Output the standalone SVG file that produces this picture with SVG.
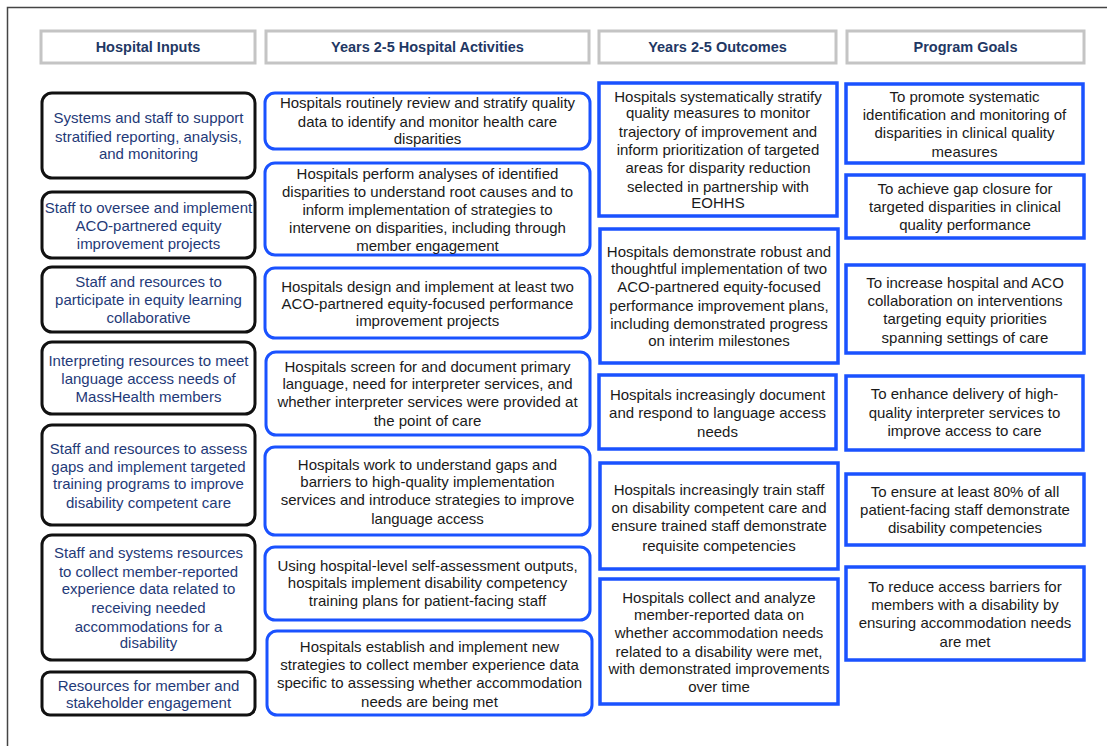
<svg xmlns="http://www.w3.org/2000/svg" width="1107" height="746" viewBox="0 0 1107 746">
<style>
text{font-family:"Liberation Sans",Arial,sans-serif;font-size:15px;text-anchor:middle}
.hdr rect{fill:#fff;stroke:#c4c4c4;stroke-width:3}
.hdr text{font-weight:bold;font-size:14.5px;fill:#1f3864}
.inp rect{fill:#fff;stroke:#111;stroke-width:3}
.inp text{fill:#1f3a78}
.act rect{fill:#fff;stroke:#1a52ff;stroke-width:3}
.out rect,.goal rect{fill:#fff;stroke:#1a52ff;stroke-width:3.5}
.act text,.out text,.goal text{fill:#1a1a1a}
</style>
<rect x="0" y="0" width="1107" height="746" fill="#fff"/>
<path d="M7.5 746 V7.5 H1107" fill="none" stroke="#444" stroke-width="1.5"/>
<g id="connectors"></g>

<g id="h1" class="hdr"><rect x="41" y="31" width="214" height="32"/><text x="148" y="52">Hospital Inputs</text></g>
<g id="h2" class="hdr"><rect x="266" y="31" width="323" height="32"/><text x="427.5" y="52">Years 2-5 Hospital Activities</text></g>
<g id="h3" class="hdr"><rect x="599" y="31" width="237" height="32"/><text x="717.5" y="52">Years 2-5 Outcomes</text></g>
<g id="h4" class="hdr"><rect x="847" y="31" width="237" height="32"/><text x="965.5" y="52">Program Goals</text></g>

<g id="in1" class="inp"><rect x="42" y="93" width="213" height="85" rx="10"/><text x="148.5"><tspan x="148.5" y="123">Systems and staff to support</tspan><tspan x="148.5" y="142">stratified reporting, analysis,</tspan><tspan x="148.5" y="159">and monitoring</tspan></text></g>
<g id="in2" class="inp"><rect x="42" y="192" width="213" height="66" rx="10"/><text><tspan x="148.5" y="213">Staff to oversee and implement</tspan><tspan x="148.5" y="231">ACO-partnered equity</tspan><tspan x="148.5" y="249">improvement projects</tspan></text></g>
<g id="in3" class="inp"><rect x="42" y="267" width="213" height="65" rx="10"/><text><tspan x="148.5" y="287">Staff and resources to</tspan><tspan x="148.5" y="305">participate in equity learning</tspan><tspan x="148.5" y="323">collaborative</tspan></text></g>
<g id="in4" class="inp"><rect x="42" y="342" width="213" height="72" rx="10"/><text><tspan x="148.5" y="366">Interpreting resources to meet</tspan><tspan x="148.5" y="384">language access needs of</tspan><tspan x="148.5" y="402">MassHealth members</tspan></text></g>
<g id="in5" class="inp"><rect x="42" y="425" width="213" height="100" rx="10"/><text><tspan x="148.5" y="454">Staff and resources to assess</tspan><tspan x="148.5" y="472">gaps and implement targeted</tspan><tspan x="148.5" y="489">training programs to improve</tspan><tspan x="148.5" y="508">disability competent care</tspan></text></g>
<g id="in6" class="inp"><rect x="42" y="535" width="213" height="125" rx="10"/><text><tspan x="148.5" y="558">Staff and systems resources</tspan><tspan x="148.5" y="577">to collect member-reported</tspan><tspan x="148.5" y="594">experience data related to</tspan><tspan x="148.5" y="613">receiving needed</tspan><tspan x="148.5" y="632">accommodations for a</tspan><tspan x="148.5" y="648">disability</tspan></text></g>
<g id="in7" class="inp"><rect x="42" y="672" width="213" height="43" rx="8"/><text><tspan x="148.5" y="691">Resources for member and</tspan><tspan x="148.5" y="708">stakeholder engagement</tspan></text></g>

<g id="a1" class="act"><rect x="265" y="93" width="325" height="56" rx="10"/><text><tspan x="427.5" y="108">Hospitals routinely review and stratify quality</tspan><tspan x="427.5" y="127">data to identify and monitor health care</tspan><tspan x="427.5" y="144">disparities</tspan></text></g>
<g id="a2" class="act"><rect x="265" y="163" width="325" height="92" rx="10"/><text><tspan x="427.5" y="179">Hospitals perform analyses of identified</tspan><tspan x="427.5" y="197">disparities to understand root causes and to</tspan><tspan x="427.5" y="215">inform implementation of strategies to</tspan><tspan x="427.5" y="233">intervene on disparities, including through</tspan><tspan x="427.5" y="251">member engagement</tspan></text></g>
<g id="a3" class="act"><rect x="265" y="268" width="325" height="70" rx="10"/><text><tspan x="427.5" y="292">Hospitals design and implement at least two</tspan><tspan x="427.5" y="309">ACO-partnered equity-focused performance</tspan><tspan x="427.5" y="326">improvement projects</tspan></text></g>
<g id="a4" class="act"><rect x="266" y="352" width="324" height="83" rx="10"/><text><tspan x="427.5" y="372">Hospitals screen for and document primary</tspan><tspan x="427.5" y="389">language, need for interpreter services, and</tspan><tspan x="427.5" y="407">whether interpreter services were provided at</tspan><tspan x="427.5" y="426">the point of care</tspan></text></g>
<g id="a5" class="act"><rect x="265" y="447" width="325" height="88" rx="10"/><text><tspan x="427.5" y="470">Hospitals work to understand gaps and</tspan><tspan x="427.5" y="487">barriers to high-quality implementation</tspan><tspan x="427.5" y="505">services and introduce strategies to improve</tspan><tspan x="427.5" y="524">language access</tspan></text></g>
<g id="a6" class="act"><rect x="265" y="547" width="325" height="73" rx="10"/><text><tspan x="427.5" y="571">Using hospital-level self-assessment outputs,</tspan><tspan x="427.5" y="588">hospitals implement disability competency</tspan><tspan x="427.5" y="606">training plans for patient-facing staff</tspan></text></g>
<g id="a7" class="act"><rect x="267" y="631" width="325" height="84" rx="10"/><text><tspan x="429.5" y="652">Hospitals establish and implement new</tspan><tspan x="429.5" y="670">strategies to collect member experience data</tspan><tspan x="429.5" y="688">specific to assessing whether accommodation</tspan><tspan x="429.5" y="707">needs are being met</tspan></text></g>

<g id="o1" class="out"><rect x="599" y="83" width="238" height="133"/><text><tspan x="718" y="102">Hospitals systematically stratify</tspan><tspan x="718" y="118">quality measures to monitor</tspan><tspan x="718" y="137">trajectory of improvement and</tspan><tspan x="718" y="155">inform prioritization of targeted</tspan><tspan x="718" y="173">areas for disparity reduction</tspan><tspan x="718" y="192">selected in partnership with</tspan><tspan x="718" y="208">EOHHS</tspan></text></g>
<g id="o2" class="out"><rect x="600" y="229" width="238" height="134"/><text><tspan x="719" y="257">Hospitals demonstrate robust and</tspan><tspan x="719" y="274">thoughtful implementation of two</tspan><tspan x="719" y="292">ACO-partnered equity-focused</tspan><tspan x="719" y="311">performance improvement plans,</tspan><tspan x="719" y="329">including demonstrated progress</tspan><tspan x="719" y="346">on interim milestones</tspan></text></g>
<g id="o3" class="out"><rect x="599" y="375" width="237" height="74"/><text><tspan x="717.5" y="400">Hospitals increasingly document</tspan><tspan x="717.5" y="418">and respond to language access</tspan><tspan x="717.5" y="437">needs</tspan></text></g>
<g id="o4" class="out"><rect x="600" y="463" width="238" height="106"/><text><tspan x="719" y="495">Hospitals increasingly train staff</tspan><tspan x="719" y="513">on disability competent care and</tspan><tspan x="719" y="531">ensure trained staff demonstrate</tspan><tspan x="719" y="551">requisite competencies</tspan></text></g>
<g id="o5" class="out"><rect x="600" y="579" width="238" height="125"/><text><tspan x="719" y="603">Hospitals collect and analyze</tspan><tspan x="719" y="620">member-reported data on</tspan><tspan x="719" y="638">whether accommodation needs</tspan><tspan x="719" y="657">related to a disability were met,</tspan><tspan x="719" y="674">with demonstrated improvements</tspan><tspan x="719" y="692">over time</tspan></text></g>

<g id="g1" class="goal"><rect x="846" y="84" width="237" height="79"/><text><tspan x="964.5" y="102">To promote systematic</tspan><tspan x="964.5" y="120">identification and monitoring of</tspan><tspan x="964.5" y="138">disparities in clinical quality</tspan><tspan x="964.5" y="157">measures</tspan></text></g>
<g id="g2" class="goal"><rect x="846" y="175" width="238" height="63"/><text><tspan x="965" y="194">To achieve gap closure for</tspan><tspan x="965" y="212">targeted disparities in clinical</tspan><tspan x="965" y="230">quality performance</tspan></text></g>
<g id="g3" class="goal"><rect x="846" y="265" width="238" height="88"/><text><tspan x="965" y="288">To increase hospital and ACO</tspan><tspan x="965" y="306">collaboration on interventions</tspan><tspan x="965" y="324">targeting equity priorities</tspan><tspan x="965" y="343">spanning settings of care</tspan></text></g>
<g id="g4" class="goal"><rect x="846" y="376" width="237" height="74"/><text><tspan x="964.5" y="399">To enhance delivery of high-</tspan><tspan x="964.5" y="418">quality interpreter services to</tspan><tspan x="964.5" y="436">improve access to care</tspan></text></g>
<g id="g5" class="goal"><rect x="846" y="474" width="238" height="71"/><text><tspan x="965" y="497">To ensure at least 80% of all</tspan><tspan x="965" y="515">patient-facing staff demonstrate</tspan><tspan x="965" y="533">disability competencies</tspan></text></g>
<g id="g6" class="goal"><rect x="846" y="567" width="238" height="93"/><text><tspan x="965" y="592">To reduce access barriers for</tspan><tspan x="965" y="610">members with a disability by</tspan><tspan x="965" y="628">ensuring accommodation needs</tspan><tspan x="965" y="647">are met</tspan></text></g>
</svg>
